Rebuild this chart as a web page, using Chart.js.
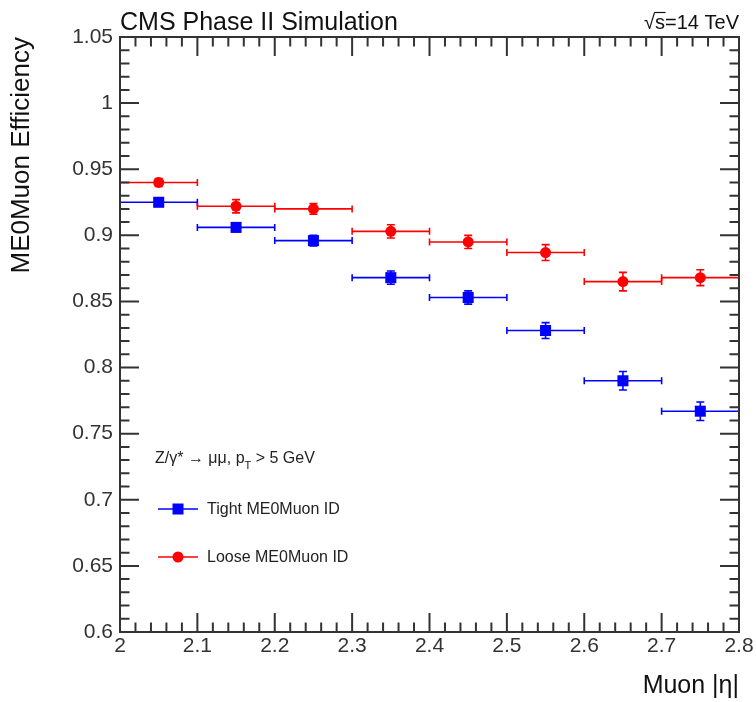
<!DOCTYPE html>
<html><head><meta charset="utf-8">
<script src="https://cdn.jsdelivr.net/npm/chart.js@4.4.1/dist/chart.umd.min.js"></script>
<style>html,body{margin:0;padding:0;background:#fff}#wrap{width:756px;height:702px}</style>
</head><body><div id="wrap"><canvas id="c" width="756" height="702"></canvas></div>
<script>
// ---- data ----
const binEdges   = [2.0, 2.1, 2.2, 2.3, 2.4, 2.5, 2.6, 2.7, 2.8];
const etaCenters = [2.05, 2.15, 2.25, 2.35, 2.45, 2.55, 2.65, 2.75];
const tightEff   = [0.925, 0.906, 0.896, 0.868, 0.853, 0.828, 0.790, 0.767];
const tightErr   = [0.003, 0.003, 0.004, 0.005, 0.005, 0.006, 0.007, 0.007];
const looseEff   = [0.940, 0.922, 0.920, 0.903, 0.895, 0.887, 0.865, 0.868];
const looseErr   = [0.003, 0.005, 0.004, 0.005, 0.005, 0.006, 0.007, 0.006];
const xTickValues = [2.0, 2.1, 2.2, 2.3, 2.4, 2.5, 2.6, 2.7, 2.8];
const xTickLabels = ['2', '2.1', '2.2', '2.3', '2.4', '2.5', '2.6', '2.7', '2.8'];
const yTickValues = [0.6, 0.65, 0.7, 0.75, 0.8, 0.85, 0.9, 0.95, 1.0, 1.05];
const yTickLabels = ['0.6', '0.65', '0.7', '0.75', '0.8', '0.85', '0.9', '0.95', '1', '1.05'];
const seriesNames = ['Tight ME0Muon ID', 'Loose ME0Muon ID'];

const FONT = "'Liberation Sans', Arial, sans-serif";
const AXC = '#333';
const BLUE = '#0000ff', RED = '#ff0000';

const decor = {
  id: 'decor',
  beforeDatasetsDraw(chart) {
    const {ctx, scales: {x, y}} = chart;
    const series = [
      {eff: tightEff, err: tightErr, color: BLUE},
      {eff: looseEff, err: looseErr, color: RED}
    ];
    ctx.save();
    series.forEach(s => {
      ctx.strokeStyle = s.color; ctx.lineWidth = 1.6;
      s.eff.forEach((v, i) => {
        const xl = x.getPixelForValue(binEdges[i]), xr = x.getPixelForValue(binEdges[i + 1]);
        const xc = x.getPixelForValue(etaCenters[i]);
        const yc = y.getPixelForValue(v);
        const yt = y.getPixelForValue(v + s.err[i]), yb = y.getPixelForValue(v - s.err[i]);
        ctx.beginPath();
        ctx.moveTo(xl, yc); ctx.lineTo(xr, yc);
        ctx.moveTo(xl, yc - 3.5); ctx.lineTo(xl, yc + 3.5);
        ctx.moveTo(xr, yc - 3.5); ctx.lineTo(xr, yc + 3.5);
        ctx.moveTo(xc, yt); ctx.lineTo(xc, yb);
        ctx.moveTo(xc - 4, yt); ctx.lineTo(xc + 4, yt);
        ctx.moveTo(xc - 4, yb); ctx.lineTo(xc + 4, yb);
        ctx.stroke();
      });
    });
    ctx.restore();
  },
  afterDraw(chart) {
    const {ctx, chartArea: a} = chart;
    ctx.save();
    // frame
    ctx.strokeStyle = AXC; ctx.lineWidth = 2;
    ctx.strokeRect(a.left, a.top, a.right - a.left, a.bottom - a.top);
    // ticks (inward, all four sides)
    ctx.lineWidth = 2;
    ctx.beginPath();
    const x = chart.scales.x, y = chart.scales.y;
    for (let i = 60; i <= 105; i++) {
      const py = y.getPixelForValue(i / 100);
      const len = (i % 5 === 0) ? 19 : 9.5;
      ctx.moveTo(a.left, py); ctx.lineTo(a.left + len, py);
      ctx.moveTo(a.right, py); ctx.lineTo(a.right - len, py);
    }
    for (let i = 200; i <= 280; i += 2) {
      const px = x.getPixelForValue(i / 100);
      const len = (i % 10 === 0) ? 19 : 9.5;
      ctx.moveTo(px, a.bottom); ctx.lineTo(px, a.bottom - len);
      ctx.moveTo(px, a.top); ctx.lineTo(px, a.top + len);
    }
    ctx.stroke();

    // header texts
    ctx.fillStyle = '#111';
    ctx.textBaseline = 'alphabetic';
    ctx.textAlign = 'left';
    ctx.font = '25px ' + FONT;
    ctx.fillText('CMS Phase II Simulation', a.left, 30);
    ctx.font = '20px ' + FONT;
    const energy = '\u221As=14 TeV';
    const wTot = ctx.measureText(energy).width;
    const x0 = a.right - wTot;
    ctx.fillText(energy, x0, 29);
    const wRad = ctx.measureText('\u221A').width, wS = ctx.measureText('s').width;
    ctx.strokeStyle = '#111'; ctx.lineWidth = 1.2;
    ctx.beginPath();
    ctx.moveTo(x0 + wRad - 1, 12.5); ctx.lineTo(x0 + wRad + wS + 0.5, 12.5);
    ctx.stroke();

    // legend block
    ctx.fillStyle = '#222';
    ctx.font = '16px ' + FONT;
    let lx = 155;
    const part1 = 'Z/\u03B3* \u2192 \u03BC\u03BC, p';
    ctx.fillText(part1, lx, 463);
    lx += ctx.measureText(part1).width;
    ctx.font = '11px ' + FONT;
    ctx.fillText('T', lx, 469);
    lx += ctx.measureText('T').width;
    ctx.font = '16px ' + FONT;
    ctx.fillText(' > 5 GeV', lx, 463);

    const items = [
      {name: seriesNames[0], color: BLUE, style: 'rect', y: 509},
      {name: seriesNames[1], color: RED, style: 'circle', y: 557}
    ];
    items.forEach(it => {
      ctx.strokeStyle = it.color; ctx.lineWidth = 1.6;
      ctx.beginPath(); ctx.moveTo(158, it.y); ctx.lineTo(198, it.y); ctx.stroke();
      ctx.fillStyle = it.color;
      if (it.style === 'rect') { ctx.fillRect(178 - 5.5, it.y - 5.5, 11, 11); }
      else { ctx.beginPath(); ctx.arc(178, it.y, 5.5, 0, Math.PI * 2); ctx.fill(); }
      ctx.fillStyle = '#222';
      ctx.font = '16px ' + FONT;
      ctx.fillText(it.name, 207, it.y + 5);
    });
    ctx.restore();
  }
};

new Chart(document.getElementById('c'), {
  type: 'scatter',
  data: {
    datasets: [
      {
        label: seriesNames[0],
        data: etaCenters.map((e, i) => ({x: e, y: tightEff[i]})),
        pointStyle: 'rect', pointRadius: 7.8, borderWidth: 0,
        backgroundColor: BLUE, borderColor: BLUE, showLine: false
      },
      {
        label: seriesNames[1],
        data: etaCenters.map((e, i) => ({x: e, y: looseEff[i]})),
        pointStyle: 'circle', pointRadius: 5.5, borderWidth: 0,
        backgroundColor: RED, borderColor: RED, showLine: false
      }
    ]
  },
  options: {
    responsive: false, animation: false, devicePixelRatio: 1,
    layout: {padding: {top: 37, right: 17, left: 0, bottom: 0}},
    plugins: {legend: {display: false}, tooltip: {enabled: false}},
    scales: {
      x: {
        type: 'linear', min: 2.0, max: 2.8,
        afterBuildTicks: s => { s.ticks = xTickValues.map(v => ({value: v})); },
        afterFit: s => { s.height = 70; },
        grid: {display: false, drawTicks: false},
        border: {display: false},
        ticks: {
          callback: (v, i) => xTickLabels[i],
          font: {family: FONT, size: 21}, color: AXC, padding: 2, maxRotation: 0, autoSkip: false
        },
        title: {display: true, text: 'Muon |\u03B7|', align: 'end',
          font: {family: FONT, size: 25}, color: '#111', padding: {top: 0, bottom: 1}}
      },
      y: {
        type: 'linear', min: 0.6, max: 1.05,
        afterBuildTicks: s => { s.ticks = yTickValues.map(v => ({value: v})); },
        afterFit: s => { s.width = 120; },
        grid: {display: false, drawTicks: false},
        border: {display: false},
        ticks: {
          callback: (v, i) => yTickLabels[i],
          font: {family: FONT, size: 21}, color: AXC, padding: 7, autoSkip: false
        },
        title: {display: true, text: 'ME0Muon Efficiency', align: 'end',
          font: {family: FONT, size: 26}, color: '#111', padding: {top: 6, bottom: 0}}
      }
    }
  },
  plugins: [decor]
});
</script>
</body></html>
